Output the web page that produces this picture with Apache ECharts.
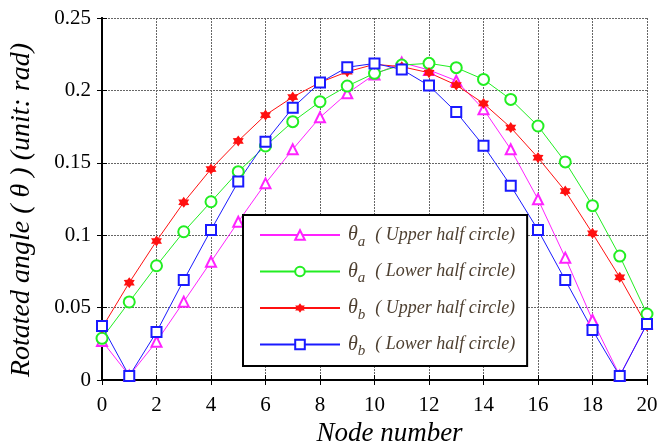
<!DOCTYPE html>
<html><head><meta charset="utf-8">
<script src="https://cdn.jsdelivr.net/npm/echarts@6/dist/echarts.min.js"></script>
<style>html,body{margin:0;padding:0;background:#fff}#c{width:661px;height:441px}</style>
</head><body><div id="c"></div>
<script>
var nodes = [0,1,2,3,4,5,6,7,8,9,10,11,12,13,14,15,16,17,18,19,20];
var thetaAUpper = [0.027,0.003,0.0265,0.0541,0.0817,0.1093,0.1358,0.1593,0.1814,0.198,0.211,0.2192,0.2141,0.2067,0.187,0.1593,0.1248,0.0845,0.0414,0.003,0.039];
var thetaALower = [0.0288,0.0539,0.0789,0.1024,0.1231,0.1439,0.1616,0.1784,0.1922,0.203,0.2118,0.2175,0.2187,0.2157,0.2076,0.1938,0.1754,0.1506,0.1204,0.0856,0.0456];
var thetaBUpper = [0.036,0.0672,0.096,0.1227,0.1457,0.1651,0.183,0.1954,0.2055,0.2129,0.218,0.2164,0.2122,0.2037,0.191,0.1743,0.1535,0.1305,0.1013,0.0709,0.0373];
var thetaBLower = [0.0373,0.0028,0.0331,0.069,0.1036,0.137,0.1646,0.188,0.2054,0.216,0.2186,0.2145,0.2033,0.185,0.1618,0.1342,0.1036,0.069,0.0345,0.0028,0.0387];
var seriesNames = ['aU','aL','bU','bL'];
var legendSub = {aU:['a','Upper half circle'],aL:['a','Lower half circle'],bU:['b','Upper half circle'],bL:['b','Lower half circle']};

function pairs(arr){ return nodes.map(function(n,i){ return [n, arr[i]]; }); }
var starPath = 'path://M0,-10 L3,-5.2 L8.66,-5 L6,0 L8.66,5 L3,5.2 L0,10 L-3,5.2 L-8.66,5 L-6,0 L-8.66,-5 L-3,-5.2 Z';
var font = '"Liberation Serif","Times New Roman",serif';

var chart = echarts.init(document.getElementById('c'));
var gridLine = {show:true, lineStyle:{color:'#666', width:1, type:[2,1]}};
chart.setOption({
  animation:false,
  backgroundColor:'#fff',
  grid:{left:102, right:14, top:18, bottom:61, outerBoundsMode:'none', containLabel:false},
  xAxis:[{
    type:'value', min:0, max:20, interval:2,
    name:'Node number', nameLocation:'middle', nameGap:34,
    nameTextStyle:{fontFamily:font, fontStyle:'italic', fontSize:27, color:'#000', padding:[0,0,0,30]},
    axisLine:{show:true, onZero:false, lineStyle:{color:'#000', width:2}},
    axisTick:{show:true, inside:true, length:5, lineStyle:{color:'#000'}},
    axisLabel:{fontFamily:font, fontSize:21, color:'#000', margin:15},
    splitLine:gridLine
  },{
    type:'value', position:'top', min:0, max:20, interval:2,
    axisLine:{show:true, lineStyle:{color:'#000', width:2}},
    axisTick:{show:true, inside:true, length:5, lineStyle:{color:'#000'}},
    axisLabel:{show:false}, splitLine:{show:false}
  }],
  yAxis:[{
    type:'value', min:0, max:0.25, interval:0.05,
    name:'Rotated angle ( θ ) (unit: rad)', nameLocation:'middle', nameGap:66,
    nameTextStyle:{fontFamily:font, fontStyle:'italic', fontSize:28, color:'#000', padding:[0,22,0,0]},
    axisLine:{show:true, onZero:false, lineStyle:{color:'#000', width:2}},
    axisTick:{show:true, inside:true, length:5, lineStyle:{color:'#000'}},
    axisLabel:{fontFamily:font, fontSize:21, color:'#000', margin:11},
    splitLine:gridLine
  },{
    type:'value', position:'right', min:0, max:0.25, interval:0.05,
    axisLine:{show:true, lineStyle:{color:'#000', width:2}},
    axisTick:{show:true, inside:true, length:5, lineStyle:{color:'#000'}},
    axisLabel:{show:false}, splitLine:{show:false}
  }],
  legend:{
    orient:'vertical', left:243, top:215,
    width:285,
    backgroundColor:'#fff', borderColor:'#000', borderWidth:2, borderRadius:0,
    padding:[10,12,7,16],
    itemWidth:80, itemHeight:12, itemGap:12,
    data:seriesNames,
    formatter:function(name){
      var s = legendSub[name];
      return '{t|θ}{s|' + s[0] + '}{p|( ' + s[1] + ')}';
    },
    textStyle:{
      fontFamily:font, fontStyle:'italic', color:'#4d3f30', fontSize:18,
      rich:{
        t:{fontFamily:font, fontStyle:'italic', fontSize:20, color:'#4d3f30', padding:[0,0,0,3]},
        s:{fontFamily:font, fontStyle:'italic', fontSize:15, color:'#4d3f30', padding:[14,10,0,0]},
        p:{fontFamily:font, fontStyle:'italic', fontSize:18, color:'#4d3f30'}
      }
    }
  },
  series:[
    {name:'aU', type:'line', data:pairs(thetaAUpper), symbol:'emptyTriangle', symbolSize:10,
     itemStyle:{color:'#ff22ff', borderWidth:1}, lineStyle:{color:'#ff22ff', width:1}},
    {name:'aL', type:'line', data:pairs(thetaALower), symbol:'emptyCircle', symbolSize:11,
     itemStyle:{color:'#22ee22', borderWidth:1}, lineStyle:{color:'#22ee22', width:1}},
    {name:'bU', type:'line', data:pairs(thetaBUpper), symbol:starPath, symbolSize:11,
     itemStyle:{color:'#ff1010'}, lineStyle:{color:'#ff1010', width:1}},
    {name:'bL', type:'line', data:pairs(thetaBLower), symbol:'emptyRect', symbolSize:10,
     itemStyle:{color:'#1a1aff', borderWidth:1}, lineStyle:{color:'#1a1aff', width:1}}
  ]
});
</script></body></html>
